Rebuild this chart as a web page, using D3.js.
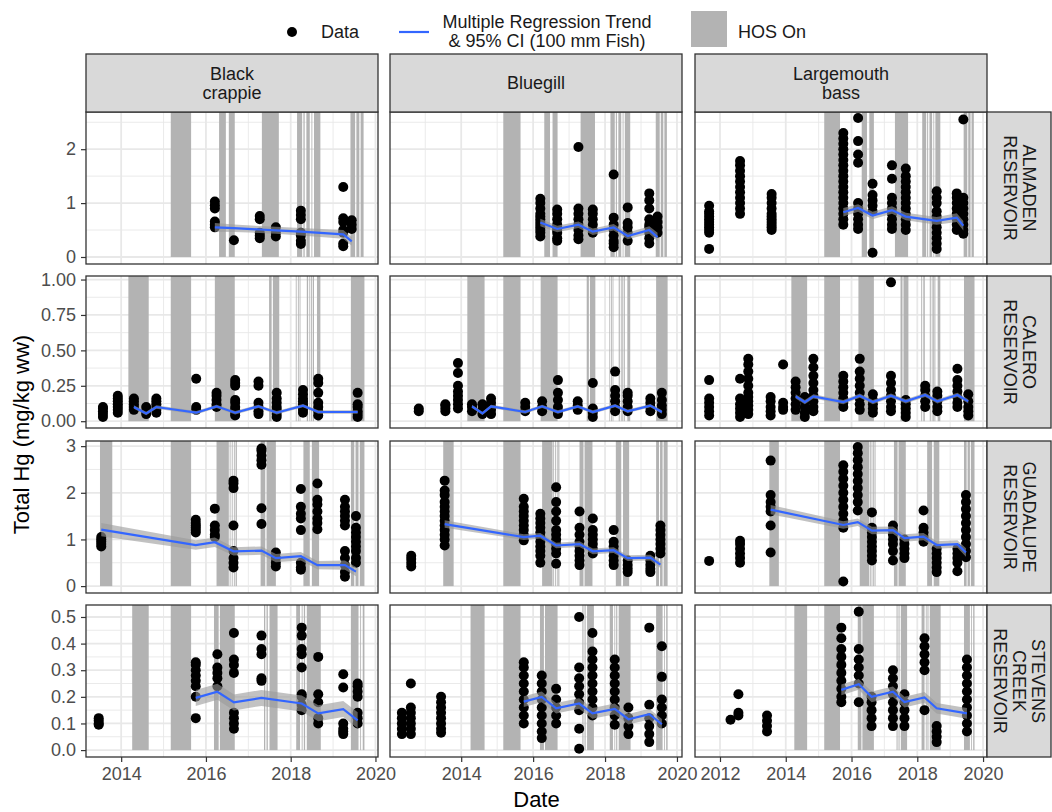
<!DOCTYPE html>
<html>
<head>
<meta charset="utf-8">
<script src="https://cdn.jsdelivr.net/npm/d3@7"></script>
<style>
  body { margin: 0; background: #fff; }
  text { font-family: "Liberation Sans", Arial, sans-serif; }
</style>
</head>
<body>
<svg id="chart" width="1052" height="812"></svg>
<script>
// facet labels
var species = ["Black\ncrappie", "Bluegill", "Largemouth\nbass"];
var reservoirs = ["ALMADEN\nRESERVOIR", "CALERO\nRESERVOIR", "GUADALUPE\nRESERVOIR", "STEVENS\nCREEK\nRESERVOIR"];

// axis breaks
var xTicks = [[2014, 2016, 2018, 2020], [2014, 2016, 2018, 2020], [2012, 2014, 2016, 2018, 2020]];
var xDomains = [[2013.17, 2020.06], [2012.02, 2020.14], [2011.24, 2020.12]];
var yTicks = [[0, 1, 2], [0, 0.25, 0.5, 0.75, 1], [0, 1, 2, 3], [0, 0.1, 0.2, 0.3, 0.4, 0.5]];
var yTickLabels = [["0", "1", "2"], ["0.00", "0.25", "0.50", "0.75", "1.00"], ["0", "1", "2", "3"],
    ["0.0", "0.1", "0.2", "0.3", "0.4", "0.5"]];
var yDomains = [[-0.13, 2.69], [-0.048, 1.025], [-0.148, 3.11], [-0.026, 0.545]];

// HOS on periods (decimal year), one list per reservoir
var hosAlmaden = [[2015.17, 2015.65], [2016.31, 2016.47], [2016.54, 2016.68], [2017.32, 2017.72],
    [2018.15, 2018.27], [2018.30, 2018.33], [2018.37, 2018.45], [2018.49, 2018.51], [2018.55, 2018.70],
    [2019.41, 2019.52], [2019.55, 2019.62], [2019.65, 2019.72]];
var hosCalero = [[2014.17, 2014.65], [2015.17, 2015.65], [2016.21, 2016.68], [2017.49, 2017.55],
    [2017.58, 2017.73], [2018.12, 2018.14], [2018.17, 2018.19], [2018.21, 2018.23], [2018.38, 2018.41],
    [2018.44, 2018.46], [2018.48, 2018.50], [2018.52, 2018.55], [2018.62, 2018.70], [2019.42, 2019.74]];
var hosGuadalupe = [[2013.50, 2013.79], [2015.17, 2015.65], [2016.25, 2016.54], [2016.56, 2016.58],
    [2016.61, 2016.63], [2016.66, 2016.68], [2016.70, 2016.73], [2017.29, 2017.40], [2017.43, 2017.65],
    [2018.30, 2018.45], [2018.50, 2018.67], [2019.42, 2019.50], [2019.53, 2019.60], [2019.63, 2019.74]];
var hosStevens = [[2014.26, 2014.65], [2015.17, 2015.65], [2016.19, 2016.30], [2016.33, 2016.68],
    [2017.37, 2017.40], [2017.43, 2017.46], [2017.50, 2017.69], [2018.13, 2018.22], [2018.26, 2018.28],
    [2018.31, 2018.34], [2018.38, 2018.71], [2019.42, 2019.60], [2019.64, 2019.66], [2019.70, 2019.74]];

// fish samples: [date, [total Hg values]]
var almadenCrappie = [
    [2016.21, [0.55, 0.6, 0.66, 0.9, 0.96, 1.03]],
    [2016.66, [0.31]],
    [2017.27, [0.35, 0.4, 0.45, 0.7, 0.76]],
    [2017.65, [0.38, 0.45, 0.55]],
    [2018.24, [0.24, 0.3, 0.4, 0.45, 0.7, 0.78, 0.86]],
    [2019.24, [0.2, 0.25, 0.45, 0.5, 0.65, 0.72, 1.3]],
    [2019.44, [0.52, 0.6, 0.68]]
];
var almadenBluegill = [
    [2016.20, [0.38, 0.45, 0.5, 0.55, 0.6, 0.65, 0.7, 0.75, 0.8, 0.9, 1.0, 1.08]],
    [2016.67, [0.3, 0.35, 0.45, 0.5, 0.55, 0.6, 0.7, 0.8, 0.88]],
    [2017.26, [0.33, 0.4, 0.5, 0.6, 0.7, 0.8, 0.9, 2.04]],
    [2017.66, [0.45, 0.5, 0.6, 0.7, 0.8, 0.88]],
    [2018.24, [0.18, 0.25, 0.3, 0.4, 0.5, 0.6, 0.73, 1.53]],
    [2018.63, [0.3, 0.45, 0.55, 0.63, 0.92]],
    [2019.23, [0.25, 0.35, 0.45, 0.55, 0.6, 0.7, 0.9, 1.05, 1.18]],
    [2019.46, [0.45, 0.55, 0.65, 0.75]]
];
var almadenBass = [
    [2011.67, [0.15, 0.45, 0.5, 0.55, 0.6, 0.65, 0.7, 0.75, 0.8, 0.85, 0.95]],
    [2012.61, [0.8, 0.9, 1.0, 1.1, 1.2, 1.3, 1.4, 1.5, 1.6, 1.7, 1.78]],
    [2013.57, [0.5, 0.55, 0.6, 0.65, 0.7, 0.75, 0.8, 0.9, 1.0, 1.1, 1.17]],
    [2015.75, [0.6, 0.7, 0.8, 0.9, 1.0, 1.1, 1.2, 1.3, 1.4, 1.5, 1.6, 1.7, 1.8, 1.9, 2.0, 2.1, 2.2, 2.3]],
    [2016.20, [0.52, 0.6, 0.7, 0.8, 0.9, 1.0, 1.75, 1.9, 2.15, 2.58]],
    [2016.64, [0.08, 0.85, 0.95, 1.05, 1.15, 1.36]],
    [2017.23, [0.52, 0.6, 0.7, 0.8, 0.9, 1.0, 1.1, 1.45, 1.7]],
    [2017.65, [0.5, 0.6, 0.7, 0.8, 0.9, 1.0, 1.1, 1.2, 1.3, 1.4, 1.5, 1.64]],
    [2018.59, [0.15, 0.25, 0.35, 0.45, 0.55, 0.65, 0.75, 0.85, 1.0, 1.1, 1.22]],
    [2019.20, [0.5, 0.6, 0.7, 0.8, 0.9, 1.0, 1.1, 1.18]],
    [2019.40, [0.43, 0.5, 0.6, 0.7, 0.8, 0.9, 1.0, 1.1, 2.55]]
];
var caleroCrappie = [
    [2013.57, [0.03, 0.05, 0.07, 0.09, 0.1]],
    [2013.92, [0.06, 0.08, 0.1, 0.12, 0.14, 0.16, 0.18]],
    [2014.30, [0.08, 0.1, 0.12, 0.14, 0.16]],
    [2014.59, [0.05, 0.07, 0.1]],
    [2014.83, [0.06, 0.08, 0.1, 0.12, 0.14, 0.16]],
    [2015.77, [0.08, 0.1, 0.3]],
    [2016.25, [0.1, 0.12, 0.15, 0.18, 0.2]],
    [2016.69, [0.04, 0.06, 0.08, 0.1, 0.13, 0.15, 0.25, 0.27, 0.29]],
    [2017.24, [0.05, 0.07, 0.1, 0.13, 0.25, 0.28]],
    [2017.67, [0.03, 0.05, 0.08, 0.1, 0.13, 0.16, 0.2]],
    [2018.29, [0.06, 0.08, 0.1, 0.12, 0.14, 0.16, 0.19, 0.22]],
    [2018.65, [0.04, 0.07, 0.1, 0.13, 0.2, 0.27, 0.3]],
    [2019.58, [0.03, 0.05, 0.07, 0.1, 0.12, 0.2]]
];
var caleroBluegill = [
    [2012.82, [0.07, 0.09]],
    [2013.56, [0.07, 0.09, 0.11, 0.12]],
    [2013.91, [0.09, 0.12, 0.15, 0.18, 0.21, 0.25, 0.34, 0.41]],
    [2014.30, [0.07, 0.1, 0.12]],
    [2014.59, [0.05, 0.08, 0.12]],
    [2014.83, [0.05, 0.08, 0.1, 0.13, 0.16]],
    [2015.78, [0.07, 0.1, 0.13]],
    [2016.25, [0.07, 0.1, 0.14]],
    [2016.69, [0.05, 0.07, 0.1, 0.15, 0.2, 0.29]],
    [2017.24, [0.08, 0.11, 0.14]],
    [2017.66, [0.03, 0.06, 0.09, 0.27]],
    [2018.28, [0.07, 0.1, 0.14, 0.18, 0.22, 0.35]],
    [2018.63, [0.07, 0.1, 0.14, 0.18, 0.2]],
    [2019.26, [0.07, 0.1, 0.13, 0.16]],
    [2019.58, [0.05, 0.08, 0.11, 0.15, 0.2]]
];
var caleroBass = [
    [2011.67, [0.04, 0.07, 0.1, 0.13, 0.16, 0.29]],
    [2012.61, [0.03, 0.06, 0.09, 0.12, 0.16, 0.3]],
    [2012.86, [0.05, 0.08, 0.11, 0.14, 0.17, 0.2, 0.25, 0.3, 0.35, 0.4, 0.44]],
    [2013.54, [0.04, 0.07, 0.1, 0.14, 0.17]],
    [2013.92, [0.08, 0.1, 0.13, 0.4]],
    [2014.30, [0.08, 0.12, 0.16, 0.2, 0.24, 0.28]],
    [2014.58, [0.03, 0.06, 0.1, 0.14, 0.17]],
    [2014.84, [0.07, 0.1, 0.14, 0.18, 0.22, 0.27, 0.32, 0.38, 0.44]],
    [2015.75, [0.1, 0.13, 0.16, 0.2, 0.24, 0.28, 0.32]],
    [2016.25, [0.08, 0.12, 0.16, 0.2, 0.25, 0.3, 0.35, 0.44]],
    [2016.65, [0.06, 0.09, 0.12, 0.15, 0.19]],
    [2017.20, [0.07, 0.1, 0.14, 0.18, 0.22, 0.27, 0.32, 0.98]],
    [2017.65, [0.03, 0.06, 0.09, 0.12, 0.15]],
    [2018.24, [0.1, 0.14, 0.18, 0.22, 0.25]],
    [2018.61, [0.07, 0.1, 0.14, 0.18, 0.21]],
    [2019.22, [0.1, 0.13, 0.17, 0.21, 0.25, 0.29, 0.37]],
    [2019.55, [0.04, 0.07, 0.1, 0.14, 0.19]]
];
var guadalupeCrappie = [
    [2013.53, [0.85, 0.9, 0.95, 1.0, 1.05]],
    [2015.76, [1.15, 1.2, 1.25, 1.3, 1.35, 1.42]],
    [2016.21, [1.05, 1.1, 1.2, 1.3, 1.66]],
    [2016.65, [0.4, 0.5, 0.6, 0.75, 1.3, 2.1, 2.2, 2.26]],
    [2017.31, [1.33, 1.67, 2.6, 2.7, 2.8, 2.9, 2.95]],
    [2017.65, [0.42, 0.5, 0.6, 0.72]],
    [2018.24, [0.35, 0.4, 0.5, 1.2, 1.45, 1.55, 1.7, 2.08]],
    [2018.63, [1.22, 1.35, 1.45, 1.6, 1.75, 1.85, 2.2]],
    [2019.28, [0.2, 0.3, 0.45, 0.6, 0.75, 1.3, 1.4, 1.5, 1.6, 1.7, 1.85]],
    [2019.54, [0.5, 0.6, 0.75, 0.85, 0.95, 1.05, 1.15, 1.25, 1.5]]
];
var guadalupeBluegill = [
    [2012.61, [0.42, 0.5, 0.58, 0.65]],
    [2013.54, [0.87, 1.0, 1.1, 1.2, 1.3, 1.4, 1.5, 1.6, 1.7, 1.8, 1.95, 2.05, 2.26]],
    [2015.74, [0.98, 1.1, 1.2, 1.3, 1.4, 1.5, 1.6, 1.7, 1.87]],
    [2016.20, [0.5, 0.65, 0.75, 0.85, 0.95, 1.05, 1.15, 1.25, 1.35, 1.45, 1.55]],
    [2016.64, [0.48, 0.7, 0.8, 0.9, 1.0, 1.1, 1.2, 1.4, 1.6, 1.8, 2.12]],
    [2017.29, [0.45, 0.55, 0.65, 0.75, 0.85, 0.95, 1.1, 1.25, 1.6]],
    [2017.66, [0.7, 0.8, 0.9, 1.0, 1.1, 1.2, 1.45]],
    [2018.24, [0.45, 0.55, 0.65, 0.75, 0.85, 0.95, 1.2]],
    [2018.63, [0.3, 0.37, 0.45, 0.55]],
    [2019.26, [0.3, 0.37, 0.45, 0.55, 0.65]],
    [2019.54, [0.7, 0.8, 0.9, 1.0, 1.1, 1.2, 1.3]]
];
var guadalupeBass = [
    [2011.67, [0.54]],
    [2012.61, [0.5, 0.6, 0.7, 0.8, 0.9, 0.97]],
    [2013.54, [0.72, 1.3, 1.6, 1.7, 1.8, 1.95, 2.69]],
    [2015.75, [0.1, 1.25, 1.4, 1.55, 1.7, 1.85, 2.0, 2.15, 2.3, 2.45, 2.59]],
    [2016.19, [1.62, 1.8, 1.95, 2.1, 2.25, 2.4, 2.55, 2.7, 2.85, 2.98]],
    [2016.62, [0.55, 0.65, 0.75, 0.85, 0.95, 1.05, 1.15, 1.25, 1.58]],
    [2017.26, [0.55, 0.75, 0.9, 1.0, 1.1, 1.2, 1.3]],
    [2017.61, [0.6, 0.7, 0.8, 0.9, 1.0]],
    [2018.19, [0.95, 1.05, 1.15, 1.25, 1.62]],
    [2018.59, [0.3, 0.4, 0.5, 0.6, 0.7, 0.8]],
    [2019.22, [0.32, 0.5, 0.6, 0.7, 0.8]],
    [2019.48, [0.62, 0.75, 0.9, 1.05, 1.2, 1.35, 1.5, 1.65, 1.8, 1.95]]
];
var stevensCrappie = [
    [2013.47, [0.095, 0.1, 0.11, 0.12]],
    [2015.76, [0.12, 0.2, 0.24, 0.26, 0.28, 0.3, 0.32, 0.33]],
    [2016.27, [0.24, 0.27, 0.29, 0.31, 0.36]],
    [2016.66, [0.08, 0.1, 0.12, 0.14, 0.29, 0.32, 0.34, 0.44]],
    [2017.31, [0.26, 0.27, 0.36, 0.38, 0.43]],
    [2018.26, [0.15, 0.17, 0.2, 0.21, 0.31, 0.36, 0.38, 0.43, 0.46]],
    [2018.65, [0.1, 0.12, 0.18, 0.21, 0.35]],
    [2019.24, [0.06, 0.07, 0.08, 0.1, 0.235, 0.285]],
    [2019.58, [0.1, 0.12, 0.14, 0.2, 0.22, 0.24, 0.25]]
];
var stevensBluegill = [
    [2012.35, [0.06, 0.08, 0.1, 0.12, 0.14]],
    [2012.60, [0.06, 0.08, 0.1, 0.12, 0.14, 0.16, 0.25]],
    [2013.44, [0.065, 0.08, 0.1, 0.12, 0.14, 0.16, 0.18, 0.2]],
    [2015.74, [0.1, 0.13, 0.16, 0.19, 0.22, 0.25, 0.28, 0.31, 0.33]],
    [2016.24, [0.045, 0.07, 0.1, 0.13, 0.16, 0.19, 0.22, 0.25, 0.28]],
    [2016.64, [0.1, 0.13, 0.16, 0.19, 0.23]],
    [2017.28, [0.005, 0.08, 0.15, 0.18, 0.21, 0.24, 0.27, 0.31, 0.5]],
    [2017.65, [0.13, 0.16, 0.19, 0.22, 0.25, 0.28, 0.31, 0.34, 0.37, 0.44]],
    [2018.27, [0.095, 0.13, 0.16, 0.19, 0.22, 0.25, 0.28, 0.31, 0.34]],
    [2018.65, [0.06, 0.09, 0.12, 0.16]],
    [2019.23, [0.03, 0.06, 0.09, 0.12, 0.17, 0.46]],
    [2019.58, [0.1, 0.13, 0.16, 0.19, 0.275, 0.39]]
];
var stevensBass = [
    [2012.32, [0.114]],
    [2012.56, [0.13, 0.14, 0.21]],
    [2013.43, [0.07, 0.09, 0.11, 0.13]],
    [2015.69, [0.18, 0.2, 0.23, 0.26, 0.29, 0.32, 0.35, 0.38, 0.42, 0.46]],
    [2016.22, [0.18, 0.25, 0.28, 0.31, 0.34, 0.38, 0.52]],
    [2016.61, [0.09, 0.12, 0.15, 0.18, 0.2]],
    [2017.26, [0.09, 0.12, 0.15, 0.18, 0.21, 0.24, 0.27, 0.3]],
    [2017.61, [0.09, 0.12, 0.15, 0.18, 0.21]],
    [2018.22, [0.15, 0.3, 0.33, 0.36, 0.39, 0.42]],
    [2018.59, [0.03, 0.05, 0.07, 0.09]],
    [2019.51, [0.07, 0.1, 0.13, 0.16, 0.19, 0.22, 0.25, 0.28, 0.31, 0.34]]
];

// regression trend: [date, fit, 95% CI half width]
var almadenCrappieTrend = [[2016.21, 0.55, 0.08], [2016.66, 0.535, 0.07], [2017.27, 0.51, 0.065],
    [2017.65, 0.495, 0.065], [2018.24, 0.47, 0.07], [2019.24, 0.42, 0.08], [2019.44, 0.29, 0.08]];
var almadenBluegillTrend = [[2016.20, 0.64, 0.07], [2016.67, 0.52, 0.06], [2017.26, 0.6, 0.06],
    [2017.66, 0.47, 0.06], [2018.24, 0.55, 0.06], [2018.63, 0.39, 0.06], [2019.23, 0.5, 0.07], [2019.46, 0.37, 0.08]];
var almadenBassTrend = [[2015.75, 0.83, 0.08], [2016.20, 0.91, 0.07], [2016.64, 0.77, 0.07],
    [2017.23, 0.87, 0.07], [2017.65, 0.75, 0.07], [2018.59, 0.67, 0.07], [2019.20, 0.73, 0.08], [2019.40, 0.58, 0.09]];
var caleroCrappieTrend = [[2014.30, 0.1, 0.012], [2014.59, 0.054, 0.012], [2014.83, 0.1, 0.012],
    [2015.77, 0.06, 0.012], [2016.25, 0.105, 0.012], [2016.69, 0.06, 0.012], [2017.24, 0.105, 0.012],
    [2017.67, 0.06, 0.012], [2018.29, 0.11, 0.012], [2018.65, 0.065, 0.012], [2019.58, 0.065, 0.012]];
var caleroBluegillTrend = [[2014.30, 0.105, 0.012], [2014.59, 0.055, 0.012], [2014.83, 0.105, 0.012],
    [2015.78, 0.065, 0.012], [2016.25, 0.105, 0.012], [2016.69, 0.065, 0.012], [2017.24, 0.105, 0.012],
    [2017.66, 0.065, 0.012], [2018.28, 0.11, 0.012], [2018.63, 0.07, 0.012], [2019.26, 0.11, 0.012],
    [2019.58, 0.065, 0.012]];
var caleroBassTrend = [[2014.30, 0.175, 0.015], [2014.58, 0.135, 0.015], [2014.84, 0.175, 0.015],
    [2015.75, 0.135, 0.015], [2016.25, 0.18, 0.015], [2016.65, 0.135, 0.015], [2017.20, 0.18, 0.015],
    [2017.65, 0.14, 0.015], [2018.24, 0.185, 0.015], [2018.61, 0.14, 0.015], [2019.22, 0.185, 0.015],
    [2019.55, 0.14, 0.015]];
var guadalupeCrappieTrend = [[2013.53, 1.21, 0.14], [2015.76, 0.88, 0.1], [2016.21, 0.94, 0.1],
    [2016.65, 0.745, 0.09], [2017.31, 0.76, 0.09], [2017.65, 0.6, 0.09], [2018.24, 0.64, 0.09],
    [2018.63, 0.45, 0.09], [2019.28, 0.45, 0.1], [2019.54, 0.31, 0.1]];
var guadalupeBluegillTrend = [[2013.54, 1.33, 0.08], [2015.74, 1.05, 0.06], [2016.20, 1.08, 0.06],
    [2016.64, 0.87, 0.06], [2017.29, 0.9, 0.06], [2017.66, 0.745, 0.06], [2018.24, 0.77, 0.06],
    [2018.63, 0.6, 0.06], [2019.26, 0.61, 0.06], [2019.54, 0.46, 0.07]];
var guadalupeBassTrend = [[2013.54, 1.64, 0.1], [2015.75, 1.31, 0.08], [2016.19, 1.37, 0.08],
    [2016.62, 1.19, 0.08], [2017.26, 1.2, 0.08], [2017.61, 1.03, 0.08], [2018.19, 1.06, 0.08],
    [2018.59, 0.88, 0.08], [2019.22, 0.9, 0.08], [2019.48, 0.72, 0.09]];
var stevensCrappieTrend = [[2015.76, 0.196, 0.03], [2016.27, 0.219, 0.03], [2016.66, 0.179, 0.03],
    [2017.31, 0.196, 0.03], [2018.26, 0.175, 0.03], [2018.65, 0.138, 0.03], [2019.24, 0.154, 0.03],
    [2019.58, 0.112, 0.03]];
var stevensBluegillTrend = [[2015.74, 0.182, 0.02], [2016.24, 0.2, 0.02], [2016.64, 0.157, 0.02],
    [2017.28, 0.175, 0.02], [2017.65, 0.138, 0.02], [2018.27, 0.155, 0.02], [2018.65, 0.116, 0.02],
    [2019.23, 0.135, 0.02], [2019.58, 0.097, 0.02]];
var stevensBassTrend = [[2015.69, 0.226, 0.02], [2016.22, 0.247, 0.02], [2016.61, 0.2, 0.02],
    [2017.26, 0.219, 0.02], [2017.61, 0.18, 0.02], [2018.22, 0.198, 0.02], [2018.59, 0.157, 0.02],
    [2019.51, 0.138, 0.02]];

// grid of panels [row][col]
var hosByRow = [hosAlmaden, hosCalero, hosGuadalupe, hosStevens];
var pointsGrid = [
    [almadenCrappie, almadenBluegill, almadenBass],
    [caleroCrappie, caleroBluegill, caleroBass],
    [guadalupeCrappie, guadalupeBluegill, guadalupeBass],
    [stevensCrappie, stevensBluegill, stevensBass]
];
var trendGrid = [
    [almadenCrappieTrend, almadenBluegillTrend, almadenBassTrend],
    [caleroCrappieTrend, caleroBluegillTrend, caleroBassTrend],
    [guadalupeCrappieTrend, guadalupeBluegillTrend, guadalupeBassTrend],
    [stevensCrappieTrend, stevensBluegillTrend, stevensBassTrend]
];

var svg = d3.select("#chart");
var colLeft = [86, 390, 695], panelW = 292;
var rowTop = [112, 276, 441, 605], panelH = 152;
var stripTop = 54, stripRightW = 64;
var gridCol = "#e8e8e8", borderCol = "#333333";

function minorBreaks(ticks, domain) {
    var step = ticks[1] - ticks[0];
    return d3.range(ticks[0] - step / 2, ticks[ticks.length - 1] + step, step)
        .filter(function(v) { return v > domain[0] && v < domain[1]; });
}

function drawPanel(r, c) {
    var x = d3.scaleLinear().domain(xDomains[c]).range([0, panelW]);
    var y = d3.scaleLinear().domain(yDomains[r]).range([panelH, 0]);
    var g = svg.append("g").attr("transform", "translate(" + colLeft[c] + "," + rowTop[r] + ")");

    g.append("rect").attr("width", panelW).attr("height", panelH).attr("fill", "#fff");

    // grid lines
    g.selectAll(".xminor").data(minorBreaks(xTicks[c], xDomains[c])).enter().append("line")
        .attr("x1", x).attr("x2", x).attr("y1", 0).attr("y2", panelH)
        .attr("stroke", gridCol).attr("stroke-width", 0.9);
    g.selectAll(".yminor").data(minorBreaks(yTicks[r], yDomains[r])).enter().append("line")
        .attr("y1", y).attr("y2", y).attr("x1", 0).attr("x2", panelW)
        .attr("stroke", gridCol).attr("stroke-width", 0.9);
    g.selectAll(".xmajor").data(xTicks[c].filter(function(v) { return v > xDomains[c][0] && v < xDomains[c][1]; }))
        .enter().append("line")
        .attr("x1", x).attr("x2", x).attr("y1", 0).attr("y2", panelH)
        .attr("stroke", gridCol).attr("stroke-width", 1.8);
    g.selectAll(".ymajor").data(yTicks[r]).enter().append("line")
        .attr("y1", y).attr("y2", y).attr("x1", 0).attr("x2", panelW)
        .attr("stroke", gridCol).attr("stroke-width", 1.8);

    // HOS on shading
    g.selectAll(".hos").data(hosByRow[r]).enter().append("rect")
        .attr("x", function(d) { return x(d[0]); })
        .attr("width", function(d) { return Math.max(0.8, x(d[1]) - x(d[0])); })
        .attr("y", 0)
        .attr("height", y(0))
        .attr("fill", "#b3b3b3");

    // data points
    var pts = [];
    pointsGrid[r][c].forEach(function(ev) {
        ev[1].forEach(function(v) { pts.push([ev[0], v]); });
    });
    g.selectAll(".pt").data(pts).enter().append("circle")
        .attr("cx", function(d) { return x(d[0]); })
        .attr("cy", function(d) { return y(d[1]); })
        .attr("r", 5)
        .attr("fill", "#000");

    // trend & CI
    var trend = trendGrid[r][c];
    var area = d3.area()
        .x(function(d) { return x(d[0]); })
        .y0(function(d) { return y(d[1] - d[2]); })
        .y1(function(d) { return y(d[1] + d[2]); });
    var line = d3.line()
        .x(function(d) { return x(d[0]); })
        .y(function(d) { return y(d[1]); });
    g.append("path").datum(trend).attr("d", area)
        .attr("fill", "#999999").attr("fill-opacity", 0.6);
    g.append("path").datum(trend).attr("d", line)
        .attr("fill", "none").attr("stroke", "#3366FF").attr("stroke-width", 2.2);

    g.append("rect").attr("width", panelW).attr("height", panelH)
        .attr("fill", "none").attr("stroke", borderCol).attr("stroke-width", 1.3);

    if (c === 0) {
        var ya = g.append("g").call(d3.axisLeft(y).tickValues(yTicks[r])
            .tickFormat(function(d, i) { return yTickLabels[r][i]; })
            .tickSize(5).tickPadding(5));
        styleAxis(ya);
    }
    if (r === 3) {
        var xa = g.append("g").attr("transform", "translate(0," + panelH + ")")
            .call(d3.axisBottom(x).tickValues(xTicks[c].filter(function(v) { return v >= xDomains[c][0] && v <= xDomains[c][1]; }))
            .tickFormat(d3.format("d")).tickSize(5).tickPadding(5));
        styleAxis(xa);
    }
}

function styleAxis(a) {
    a.select(".domain").remove();
    a.selectAll(".tick line").attr("stroke", borderCol).attr("stroke-width", 1.2);
    a.selectAll(".tick text").attr("fill", "#4d4d4d")
        .style("font-size", "18px").style("font-family", "'Liberation Sans', Arial, sans-serif");
}

function stripText(g, label, cx, cy, rotate) {
    var lines = label.split("\n");
    var lh = 19;
    var t = g.append("text")
        .attr("transform", "translate(" + cx + "," + cy + ")" + (rotate ? " rotate(90)" : ""))
        .attr("text-anchor", "middle")
        .attr("fill", "#1a1a1a")
        .style("font-size", "18px");
    lines.forEach(function(s, i) {
        t.append("tspan").attr("x", 0)
            .attr("y", (i - (lines.length - 1) / 2) * lh + 6)
            .text(s);
    });
}

for (var r = 0; r < 4; r++) {
    for (var c = 0; c < 3; c++) {
        drawPanel(r, c);
    }
}

// column strips
species.forEach(function(s, c) {
    svg.append("rect").attr("x", colLeft[c]).attr("y", stripTop)
        .attr("width", panelW).attr("height", rowTop[0] - stripTop)
        .attr("fill", "#d9d9d9").attr("stroke", borderCol).attr("stroke-width", 1.3);
    stripText(svg, s, colLeft[c] + panelW / 2, (stripTop + rowTop[0]) / 2, false);
});
// row strips
reservoirs.forEach(function(s, r) {
    var sx = colLeft[2] + panelW;
    svg.append("rect").attr("x", sx).attr("y", rowTop[r])
        .attr("width", stripRightW).attr("height", panelH)
        .attr("fill", "#d9d9d9").attr("stroke", borderCol).attr("stroke-width", 1.3);
    stripText(svg, s, sx + stripRightW / 2, rowTop[r] + panelH / 2, true);
});

// axis titles
svg.append("text").attr("x", (colLeft[0] + colLeft[2] + panelW) / 2).attr("y", 807)
    .attr("text-anchor", "middle").style("font-size", "22px").text("Date");
svg.append("text").attr("transform", "translate(29," + (rowTop[0] + rowTop[3] + panelH) / 2 + ") rotate(-90)")
    .attr("text-anchor", "middle").style("font-size", "22px").text("Total Hg (mg/kg ww)");

// legend
var leg = svg.append("g");
leg.append("circle").attr("cx", 292).attr("cy", 32).attr("r", 5).attr("fill", "#000");
leg.append("text").attr("x", 321).attr("y", 38).style("font-size", "18px").attr("fill", "#1a1a1a").text("Data");
leg.append("line").attr("x1", 399).attr("x2", 429).attr("y1", 32).attr("y2", 32)
    .attr("stroke", "#3366FF").attr("stroke-width", 2.2);
var lt = leg.append("text").attr("text-anchor", "middle").style("font-size", "18px").attr("fill", "#1a1a1a");
lt.append("tspan").attr("x", 547).attr("y", 28).text("Multiple Regression Trend");
lt.append("tspan").attr("x", 547).attr("y", 47).text("& 95% CI (100 mm Fish)");
leg.append("rect").attr("x", 691).attr("y", 11).attr("width", 36).attr("height", 36).attr("fill", "#b3b3b3");
leg.append("text").attr("x", 738).attr("y", 38).style("font-size", "18px").attr("fill", "#1a1a1a").text("HOS On");
</script>
</body>
</html>
